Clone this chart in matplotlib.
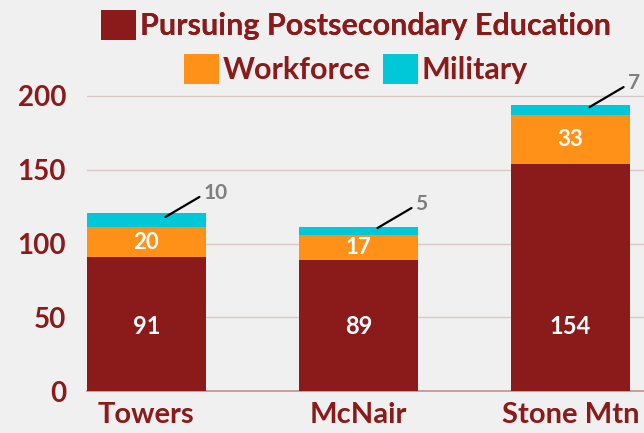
import matplotlib
matplotlib.use("Agg")
import matplotlib.pyplot as plt
import numpy as np

categories = ["Towers", "McNair", "Stone Mtn"]
postsecondary = [91, 89, 154]
workforce = [20, 17, 33]
military = [10, 5, 7]
yticks = [0, 50, 100, 150, 200]

RED = "#8B1A1A"
ORANGE = "#FF9119"
CYAN = "#00C8D8"
BG = "#F0F0F0"
GRID = "#D8C8C8"

plt.rcParams['font.family'] = ['Lato', 'DejaVu Sans']

fig = plt.figure(figsize=(6.44, 4.33), dpi=100, facecolor=BG)
ax = fig.add_axes([87/644, 42/433, 1 - 87/644, (391 - 66.5)/433])
ax.set_facecolor(BG)

x = np.arange(len(categories))
w = 0.56
p = np.array(postsecondary)
wf = np.array(workforce)
m = np.array(military)
b1 = ax.bar(x, p, w, color=RED, label="Pursuing Postsecondary Education", zorder=3)
b2 = ax.bar(x, wf, w, bottom=p, color=ORANGE, label="Workforce", zorder=3)
b3 = ax.bar(x, m, w, bottom=p + wf, color=CYAN, label="Military", zorder=3)

label_base_y = 44
for i in range(len(x)):
    ax.text(x[i], min(p[i] / 2, label_base_y), str(p[i]), ha='center', va='center',
            color='white', fontsize=17, fontweight='bold', zorder=4)
    ax.text(x[i], p[i] + wf[i] / 2, str(wf[i]), ha='center', va='center', color='white',
            fontsize=16, fontweight='bold', zorder=4)
    start = (x[i] + 0.09, p[i] + wf[i] + m[i] / 2 + 2)
    ax.annotate('', xy=start, xytext=(34, 20), textcoords='offset pixels',
                arrowprops=dict(arrowstyle='-', color='black', lw=1.6,
                                shrinkA=0, shrinkB=0), zorder=5, annotation_clip=False)
    ax.annotate(str(m[i]), xy=start, xytext=(38, 24), textcoords='offset pixels',
                ha='left', va='center', color='#7F7F7F', fontsize=15,
                fontweight='bold', zorder=5, annotation_clip=False)

ax.set_xlim(-w / 2, (644 - 146.5) / 212)
ax.set_ylim(0, 220)
ax.set_yticks(yticks)
ax.set_xticks(x)
ax.set_xticklabels(categories)
ax.yaxis.grid(True, color=GRID, lw=1, zorder=0)
ax.set_axisbelow(True)
for s in ['top', 'right', 'left']:
    ax.spines[s].set_visible(False)
ax.spines['bottom'].set_color("#C09090")
ax.spines['bottom'].set_linewidth(1.2)
ax.tick_params(axis='y', length=0, colors=RED, labelsize=20, pad=15)
ax.tick_params(axis='x', length=0, colors=RED, labelsize=21, pad=8)
for lab in ax.get_xticklabels() + ax.get_yticklabels():
    lab.set_fontweight('bold')

lfs = 22
leg1 = fig.legend(handles=[b1], loc='center', bbox_to_anchor=(356/644, 1 - 25/433),
                  frameon=False, handlelength=1.15, handleheight=1.15,
                  handletextpad=0.12, borderpad=0, borderaxespad=0,
                  labelcolor=RED, prop={'weight': 'bold', 'size': lfs})
leg2 = fig.legend(handles=[b2, b3], loc='center', bbox_to_anchor=(356/644, 1 - 69/433),
                  frameon=False, ncol=2, handlelength=1.15, handleheight=1.15,
                  handletextpad=0.12, columnspacing=0.4, borderpad=0, borderaxespad=0,
                  labelcolor=RED, prop={'weight': 'bold', 'size': lfs})
fig.add_artist(leg1)

fig.savefig("out.png", dpi=100, facecolor=BG)
